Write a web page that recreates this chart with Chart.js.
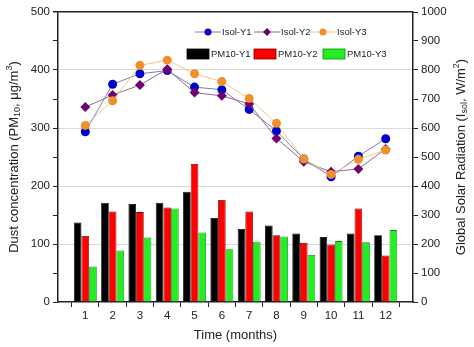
<!DOCTYPE html>
<html>
<head>
<meta charset="utf-8">
<script src="https://cdn.jsdelivr.net/npm/chart.js@4.4.1/dist/chart.umd.min.js"></script>
<style>
  html, body { margin: 0; padding: 0; background: #fff; }
  #wrap { width: 474px; height: 347px; }
</style>
</head>
<body>
<div id="wrap"><canvas id="chart" width="474" height="347"></canvas></div>
<script>
// ── Data ──────────────────────────────────────────────────────
const MONTHS  = [1, 2, 3, 4, 5, 6, 7, 8, 9, 10, 11, 12];
const PM10_Y1 = [137, 171, 169, 171, 190, 145, 126, 132, 118, 112, 118, 115];
const PM10_Y2 = [114, 156, 155, 163, 238, 176, 156, 115, 102, 99, 161, 80];
const PM10_Y3 = [61, 89, 111, 161, 120, 91, 104, 113, 81, 105, 103, 124];
const ISOL_Y1 = [587, 751, 787, 798, 741, 732, 664, 590, 493, 432, 503, 563];
const ISOL_Y2 = [672, 714, 748, 803, 722, 711, 683, 564, 484, 449, 459, 528];
const ISOL_Y3 = [609, 694, 816, 834, 787, 760, 702, 616, 493, 440, 492, 524];
const LEFT_TICKS  = [0, 100, 200, 300, 400, 500];
const RIGHT_TICKS = [0, 100, 200, 300, 400, 500, 600, 700, 800, 900, 1000];

const FONT = '"Liberation Sans", Arial, sans-serif';
const AXIS = '#222';

const pts = arr => MONTHS.map((m, i) => ({ x: m, y: arr[i] }));

const barSet = (label, data, color, border) => ({
  type: 'bar', label, data: pts(data), yAxisID: 'y',
  backgroundColor: color, borderColor: border, borderWidth: 0.8,
  categoryPercentage: 0.84, barPercentage: 1.0, order: 10
});

const lineSet = (label, data, line, fill, style, radius, order) => ({
  type: 'line', label, data: pts(data), yAxisID: 'y1',
  borderColor: line, borderWidth: 1, backgroundColor: fill,
  pointBackgroundColor: fill, pointBorderColor: fill, pointBorderWidth: 0,
  pointStyle: style, pointRadius: radius, tension: 0, order
});

// ── Rich text (sub/superscripts) ──────────────────────────────
function drawRich(ctx, parts, x, y, rot, size) {
  const small = Math.round(size * 0.7);
  const fontOf = p => `${p.sub || p.sup ? small : size}px ${FONT}`;
  let total = 0;
  parts.forEach(p => { ctx.font = fontOf(p); total += ctx.measureText(p.t).width; });
  ctx.save();
  ctx.translate(x, y);
  ctx.rotate(rot);
  ctx.fillStyle = AXIS;
  ctx.textBaseline = 'middle';
  ctx.textAlign = 'left';
  let cx = -total / 2;
  parts.forEach(p => {
    ctx.font = fontOf(p);
    const dy = p.sub ? size * 0.3 : p.sup ? -size * 0.38 : 0;
    ctx.fillText(p.t, cx, dy);
    cx += ctx.measureText(p.t).width;
  });
  ctx.restore();
}

// ── Titles + legend drawn inside the plot ─────────────────────
const decor = {
  id: 'decor',
  afterDraw(chart) {
    const { ctx, chartArea: a } = chart;
    const midY = (a.top + a.bottom) / 2;
    drawRich(ctx, [
      { t: 'Dust concentration (PM' }, { t: '10', sub: true },
      { t: ', μg/m' }, { t: '3', sup: true }, { t: ')' }
    ], 14, midY, -Math.PI / 2, 13);
    drawRich(ctx, [
      { t: 'Global Solar Radiation (I' }, { t: 'sol', sub: true },
      { t: ', W/m' }, { t: '2', sup: true }, { t: ')' }
    ], 461, midY, -Math.PI / 2, 13);
    drawRich(ctx, [{ t: 'Time (months)' }], (a.left + a.right) / 2, 335, 0, 13);

    // legend
    const ds = chart.data.datasets;
    ctx.save();
    ctx.font = `9.5px ${FONT}`;
    ctx.textBaseline = 'middle';
    ctx.fillStyle = AXIS;
    const lineItems = [[3, 208], [4, 267], [5, 323]];
    lineItems.forEach(([i, mx]) => {
      const d = ds[i];
      ctx.strokeStyle = d.borderColor;
      ctx.lineWidth = 1;
      ctx.beginPath(); ctx.moveTo(mx - 13, 32); ctx.lineTo(mx + 13, 32); ctx.stroke();
      ctx.fillStyle = d.pointBackgroundColor;
      ctx.beginPath();
      if (d.pointStyle === 'rectRot') {
        ctx.moveTo(mx, 28); ctx.lineTo(mx + 4, 32); ctx.lineTo(mx, 36); ctx.lineTo(mx - 4, 32);
      } else {
        ctx.arc(mx, 32, 3.5, 0, Math.PI * 2);
      }
      ctx.fill();
      ctx.fillStyle = AXIS;
      ctx.fillText(d.label, mx + 14, 32);
    });
    const boxItems = [[0, 187], [1, 254], [2, 323]];
    boxItems.forEach(([i, bx]) => {
      const d = ds[i];
      ctx.fillStyle = d.backgroundColor;
      ctx.fillRect(bx, 49, 22, 10);
      ctx.strokeStyle = d.borderColor;
      ctx.lineWidth = 0.8;
      ctx.strokeRect(bx, 49, 22, 10);
      ctx.fillStyle = AXIS;
      ctx.fillText(d.label, bx + 24, 54);
    });
    ctx.restore();
  }
};

// ── Chart ─────────────────────────────────────────────────────
new Chart(document.getElementById('chart'), {
  type: 'bar',
  data: {
    datasets: [
      barSet('PM10-Y1', PM10_Y1, '#000000', '#000000'),
      barSet('PM10-Y2', PM10_Y2, '#ff0000', '#7a0000'),
      barSet('PM10-Y3', PM10_Y3, '#22ee22', '#118811'),
      lineSet('Isol-Y1', ISOL_Y1, '#7f7fae', '#0000cc', 'circle', 4.5, 3),
      lineSet('Isol-Y2', ISOL_Y2, '#8c6d8c', '#720072', 'rectRot', 5, 2),
      lineSet('Isol-Y3', ISOL_Y3, '#f2c48c', '#f0902a', 'circle', 4.5, 1)
    ]
  },
  options: {
    responsive: false,
    animation: false,
    layout: { padding: { top: 12, left: 0, right: 0, bottom: 0 } },
    plugins: { legend: { display: false }, tooltip: { enabled: false } },
    scales: {
      x: {
        type: 'linear', min: 0, max: 13, offset: false,
        afterFit: s => { s.height = 45; },
        afterBuildTicks: s => { s.ticks = MONTHS.map(v => ({ value: v })); },
        ticks: { color: AXIS, font: { family: FONT, size: 11.5 }, padding: 2, maxRotation: 0,
                 callback: v => String(v) },
        grid: { drawOnChartArea: false, tickLength: 5, tickColor: AXIS },
        border: { color: AXIS, width: 1.5 }
      },
      y: {
        position: 'left', min: 0, max: 500,
        afterFit: s => { s.width = 58; },
        afterBuildTicks: s => {
          const t = [];
          for (let v = 0; v <= 500; v += 50) t.push({ value: v });
          s.ticks = t;
        },
        ticks: {
          color: AXIS, font: { family: FONT, size: 11.5 }, padding: 3,
          callback: v => LEFT_TICKS.includes(v) ? String(v) : ''
        },
        grid: {
          tickLength: 5, tickColor: AXIS,
          color: c => c.tick.value === 500 ? AXIS : (c.tick.value % 100 === 0 && c.tick.value > 0 ? '#d9d9d9' : 'rgba(0,0,0,0)'),
          lineWidth: c => c.tick.value === 500 ? 1.5 : 1
        },
        border: { color: AXIS, width: 1.5 }
      },
      y1: {
        position: 'right', min: 0, max: 1000,
        afterFit: s => { s.width = 61; },
        afterBuildTicks: s => { s.ticks = RIGHT_TICKS.map(v => ({ value: v })); },
        ticks: { color: AXIS, font: { family: FONT, size: 11.5 }, padding: 3,
                 callback: v => String(v) },
        grid: { drawOnChartArea: false, tickLength: 5, tickColor: AXIS },
        border: { color: AXIS, width: 1.5 }
      }
    }
  },
  plugins: [decor]
});
</script>
</body>
</html>
